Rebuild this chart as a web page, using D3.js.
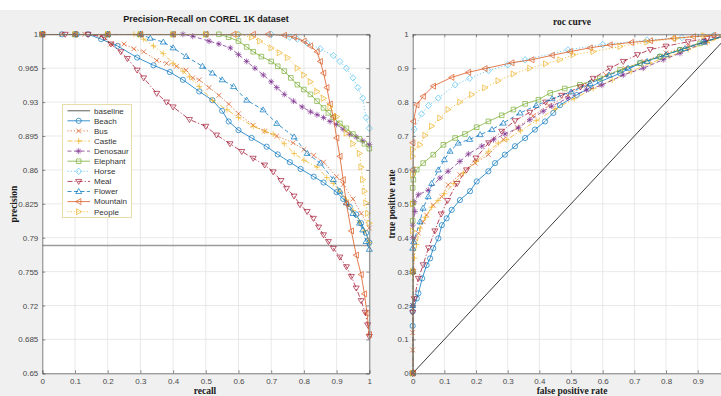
<!DOCTYPE html>
<html><head><meta charset="utf-8">
<script src="https://cdn.jsdelivr.net/npm/d3@7"></script>
<style>body{margin:0;background:#fff}svg{display:block}</style>
</head><body><svg id="c" width="721" height="396"></svg>
<script>
// ---------- data ----------
const categories = ["Beach","Bus","Castle","Denosaur","Elephant","Horse","Meal","Flower","Mountain","People"];
const seriesColors = ["#0072BD","#D95319","#EDB120","#7E2F8E","#77AC30","#4DBEEE","#A2142F","#0072BD","#D95319","#EDB120"];
const seriesDash = ["none","1.2,2","5,2,1.2,2","4,2.5","none","1.2,2","5,2,1.2,2","4,2.5","none","1.2,2"];
const seriesMarker = ["circle","x","plus","star","square","diamond","tridown","triup","trileft","triright"];

const prXTicks = [0,0.1,0.2,0.3,0.4,0.5,0.6,0.7,0.8,0.9,1];
const prYTicks = [0.65,0.685,0.72,0.755,0.79,0.825,0.86,0.895,0.93,0.965,1];
const prYTickLabels = ["0.65","0.685","0.72","0.755","0.79","0.825","0.86","0.895","0.93","0.965","1"];
const rocTicks = [0,0.1,0.2,0.3,0.4,0.5,0.6,0.7,0.8,0.9,1];
const baselinePrecision = 0.782;

// precision-recall: [recall, precision]
const prBeach = [[0,1],[0.06,1],[0.105,1],[0.14,1],[0.18,0.995],[0.23,0.988],[0.29,0.976],[0.34,0.968],[0.39,0.961],[0.43,0.953],[0.48,0.941],[0.52,0.932],[0.55,0.921],[0.57,0.91],[0.6,0.901],[0.64,0.893],[0.686,0.884],[0.72,0.876],[0.757,0.868],[0.79,0.861],[0.83,0.853],[0.86,0.847],[0.9,0.837],[0.92,0.83],[0.94,0.822],[0.96,0.814],[0.975,0.805],[0.99,0.795],[1,0.785]];
const prBus = [[0,1],[0.06,1],[0.13,1],[0.18,0.998],[0.21,0.99],[0.25,0.99],[0.28,0.985],[0.31,0.982],[0.35,0.973],[0.38,0.97],[0.41,0.967],[0.44,0.963],[0.46,0.955],[0.48,0.953],[0.51,0.945],[0.54,0.937],[0.57,0.928],[0.6,0.918],[0.645,0.906],[0.68,0.9],[0.717,0.895],[0.767,0.888],[0.8,0.881],[0.83,0.875],[0.86,0.868],[0.9,0.853],[0.92,0.845],[0.95,0.83],[0.975,0.815],[1,0.8]];
const prCastle = [[0,1],[0.1,1],[0.2,1],[0.28,1],[0.31,0.995],[0.34,0.988],[0.37,0.98],[0.4,0.97],[0.43,0.962],[0.45,0.956],[0.48,0.946],[0.52,0.932],[0.565,0.922],[0.6,0.914],[0.645,0.905],[0.68,0.9],[0.706,0.897],[0.74,0.887],[0.77,0.877],[0.8,0.87],[0.84,0.863],[0.87,0.852],[0.89,0.846],[0.91,0.838],[0.93,0.829],[0.95,0.818],[0.97,0.806],[0.985,0.797],[1,0.785]];
const prDenosaur = [[0,1],[0.1,1],[0.2,1],[0.3,1],[0.4,1],[0.43,1],[0.46,0.998],[0.51,0.993],[0.54,0.99],[0.575,0.986],[0.6,0.979],[0.625,0.972],[0.65,0.965],[0.676,0.958],[0.7,0.951],[0.717,0.945],[0.74,0.938],[0.768,0.931],[0.795,0.925],[0.82,0.92],[0.84,0.917],[0.86,0.914],[0.88,0.91],[0.9,0.907],[0.92,0.902],[0.94,0.897],[0.96,0.894],[0.98,0.89],[1,0.886]];
const prElephant = [[0,1],[0.1,1],[0.2,1],[0.3,1],[0.4,1],[0.5,1],[0.54,1],[0.57,0.997],[0.6,0.993],[0.625,0.987],[0.645,0.982],[0.67,0.977],[0.7,0.972],[0.72,0.967],[0.74,0.962],[0.76,0.955],[0.78,0.948],[0.8,0.943],[0.82,0.938],[0.84,0.931],[0.86,0.924],[0.875,0.919],[0.89,0.914],[0.91,0.908],[0.93,0.903],[0.95,0.897],[0.97,0.892],[0.985,0.887],[1,0.882]];
const prHorse = [[0,1],[0.1,1],[0.2,1],[0.3,1],[0.4,1],[0.5,1],[0.6,1],[0.7,1],[0.757,0.997],[0.78,0.995],[0.81,0.991],[0.85,0.985],[0.89,0.978],[0.91,0.972],[0.93,0.965],[0.95,0.955],[0.965,0.945],[0.98,0.934],[0.99,0.914],[1,0.903]];
const prMeal = [[0,1],[0.07,1],[0.14,1],[0.19,0.997],[0.21,0.99],[0.24,0.982],[0.26,0.975],[0.29,0.963],[0.31,0.955],[0.35,0.939],[0.38,0.93],[0.4,0.925],[0.45,0.912],[0.5,0.905],[0.533,0.896],[0.574,0.887],[0.61,0.879],[0.645,0.872],[0.68,0.865],[0.706,0.858],[0.73,0.849],[0.747,0.841],[0.77,0.833],[0.788,0.824],[0.81,0.817],[0.829,0.81],[0.845,0.801],[0.86,0.793],[0.875,0.786],[0.89,0.779],[0.91,0.77],[0.93,0.76],[0.945,0.75],[0.96,0.738],[0.975,0.725],[0.987,0.713],[0.995,0.7],[1,0.688]];
const prFlower = [[0,1],[0.1,1],[0.2,1],[0.3,1],[0.33,0.996],[0.37,0.992],[0.4,0.986],[0.44,0.977],[0.49,0.967],[0.52,0.96],[0.55,0.953],[0.585,0.946],[0.625,0.932],[0.675,0.922],[0.717,0.908],[0.77,0.894],[0.81,0.877],[0.85,0.867],[0.89,0.85],[0.91,0.838],[0.93,0.826],[0.95,0.815],[0.97,0.805],[0.98,0.798],[0.99,0.786],[1,0.778]];
const prMountain = [[0,1],[0.1,1],[0.2,1],[0.3,1],[0.4,1],[0.5,1],[0.585,1],[0.645,1],[0.69,1],[0.74,0.999],[0.77,0.997],[0.8,0.993],[0.82,0.988],[0.84,0.982],[0.85,0.972],[0.86,0.96],[0.87,0.945],[0.88,0.928],[0.89,0.915],[0.9,0.893],[0.91,0.874],[0.92,0.85],[0.93,0.825],[0.945,0.797],[0.96,0.772],[0.975,0.752],[0.985,0.732],[0.993,0.712],[1,0.69]];
const prPeople = [[0,1],[0.1,1],[0.2,1],[0.3,1],[0.4,1],[0.5,1],[0.6,1],[0.64,0.997],[0.665,0.993],[0.7,0.986],[0.725,0.981],[0.75,0.976],[0.78,0.965],[0.8,0.958],[0.82,0.951],[0.84,0.941],[0.86,0.934],[0.88,0.925],[0.9,0.915],[0.93,0.898],[0.95,0.887],[0.97,0.877],[0.975,0.863],[0.98,0.85],[0.985,0.838],[0.99,0.826],[0.995,0.815],[1,0.805]];

// roc: [false positive rate, true positive rate]
const rocBeach = [[0,0],[0,0.14],[0,0.182],[0.013,0.221],[0.018,0.236],[0.03,0.28],[0.044,0.319],[0.055,0.339],[0.065,0.369],[0.081,0.398],[0.092,0.437],[0.107,0.457],[0.123,0.482],[0.149,0.511],[0.181,0.537],[0.202,0.566],[0.239,0.596],[0.26,0.62],[0.291,0.645],[0.323,0.67],[0.355,0.694],[0.386,0.719],[0.418,0.743],[0.444,0.768],[0.465,0.791],[0.518,0.821],[0.555,0.84],[0.591,0.86],[0.655,0.885],[0.718,0.915],[0.78,0.934],[0.844,0.954],[0.918,0.978],[1,1]];
const rocBus = [[0,0],[0,0.069],[0,0.12],[0,0.2],[0.003,0.3],[0.007,0.398],[0.018,0.413],[0.033,0.447],[0.044,0.467],[0.065,0.496],[0.092,0.521],[0.112,0.556],[0.149,0.586],[0.197,0.62],[0.239,0.645],[0.286,0.69],[0.33,0.725],[0.38,0.76],[0.43,0.79],[0.49,0.82],[0.55,0.85],[0.61,0.88],[0.67,0.9],[0.73,0.92],[0.8,0.945],[0.87,0.965],[0.93,0.98],[1,1]];
const rocCastle = [[0,0],[0,0.2],[0,0.295],[0.005,0.34],[0.012,0.38],[0.023,0.428],[0.04,0.46],[0.06,0.49],[0.08,0.51],[0.1,0.53],[0.13,0.56],[0.16,0.59],[0.2,0.625],[0.24,0.655],[0.27,0.679],[0.297,0.689],[0.34,0.715],[0.39,0.745],[0.45,0.78],[0.51,0.81],[0.57,0.84],[0.63,0.865],[0.69,0.89],[0.75,0.915],[0.81,0.935],[0.87,0.955],[0.93,0.975],[1,1]];
const rocDenosaur = [[0,0],[0,0.2],[0,0.4],[0,0.437],[0.007,0.477],[0.005,0.506],[0.018,0.527],[0.049,0.54],[0.086,0.576],[0.112,0.596],[0.149,0.625],[0.176,0.647],[0.218,0.67],[0.255,0.689],[0.291,0.706],[0.334,0.724],[0.37,0.748],[0.412,0.773],[0.439,0.788],[0.49,0.812],[0.549,0.836],[0.597,0.85],[0.665,0.88],[0.728,0.9],[0.791,0.925],[0.844,0.944],[0.923,0.978],[1,1]];
const rocElephant = [[0,0],[0,0.3],[0,0.45],[0,0.5],[0,0.547],[0.002,0.571],[0.013,0.601],[0.033,0.62],[0.065,0.645],[0.097,0.674],[0.134,0.694],[0.165,0.706],[0.202,0.726],[0.239,0.743],[0.281,0.761],[0.318,0.778],[0.355,0.795],[0.397,0.807],[0.434,0.827],[0.48,0.84],[0.528,0.851],[0.591,0.87],[0.655,0.895],[0.718,0.915],[0.781,0.934],[0.844,0.954],[0.907,0.973],[1,1]];
const rocHorse = [[0,0],[0,0.3],[0,0.6],[0.005,0.72],[0.028,0.765],[0.05,0.79],[0.081,0.812],[0.134,0.851],[0.18,0.87],[0.239,0.893],[0.3,0.91],[0.355,0.925],[0.49,0.954],[0.6,0.97],[0.74,0.983],[0.85,0.99],[0.95,0.997],[1,1]];
const rocMeal = [[0,0],[0,0.18],[0.005,0.22],[0.018,0.28],[0.033,0.32],[0.05,0.37],[0.07,0.42],[0.09,0.47],[0.11,0.51],[0.14,0.56],[0.17,0.6],[0.2,0.635],[0.24,0.68],[0.281,0.714],[0.323,0.745],[0.37,0.77],[0.42,0.8],[0.47,0.82],[0.53,0.845],[0.57,0.87],[0.623,0.9],[0.665,0.92],[0.71,0.94],[0.75,0.955],[0.8,0.965],[0.87,0.978],[0.93,0.988],[1,1]];
const rocFlower = [[0,0],[0,0.2],[0,0.3],[0,0.369],[0.003,0.388],[0.023,0.447],[0.033,0.487],[0.049,0.521],[0.06,0.56],[0.081,0.6],[0.1,0.63],[0.118,0.655],[0.144,0.679],[0.18,0.69],[0.213,0.704],[0.25,0.719],[0.286,0.738],[0.339,0.768],[0.39,0.79],[0.44,0.81],[0.5,0.83],[0.56,0.855],[0.62,0.88],[0.68,0.9],[0.74,0.92],[0.8,0.94],[0.86,0.958],[0.92,0.977],[1,1]];
const rocMountain = [[0,0],[0,0.3],[0,0.6],[0,0.68],[0.002,0.743],[0.013,0.792],[0.033,0.817],[0.065,0.847],[0.123,0.873],[0.176,0.888],[0.228,0.899],[0.313,0.916],[0.376,0.925],[0.44,0.938],[0.497,0.949],[0.56,0.96],[0.623,0.969],[0.69,0.976],[0.75,0.981],[0.823,0.988],[0.886,0.993],[0.95,0.997],[1,1]];
const rocPeople = [[0,0],[0,0.3],[0,0.42],[0,0.5],[0,0.586],[0,0.64],[0,0.66],[0.023,0.674],[0.039,0.702],[0.06,0.729],[0.086,0.753],[0.112,0.778],[0.149,0.8],[0.186,0.822],[0.228,0.842],[0.27,0.863],[0.318,0.883],[0.37,0.9],[0.42,0.913],[0.465,0.925],[0.507,0.94],[0.57,0.949],[0.655,0.964],[0.74,0.977],[0.83,0.988],[0.92,0.996],[1,1]];

const prSeries = [prBeach,prBus,prCastle,prDenosaur,prElephant,prHorse,prMeal,prFlower,prMountain,prPeople];
const rocSeries = [rocBeach,rocBus,rocCastle,rocDenosaur,rocElephant,rocHorse,rocMeal,rocFlower,rocMountain,rocPeople];

// ---------- drawing ----------
const svg = d3.select("#c");
svg.append("rect").attr("x",0).attr("y",10).attr("width",721).attr("height",386).attr("fill","#f0f0f0");

const FONT = "Arial, 'Liberation Sans', sans-serif";
const SERIF = "'Liberation Serif','DejaVu Serif',serif";

function markerPath(type){
  switch(type){
    case "x": return "M-2.4,-2.4L2.4,2.4M-2.4,2.4L2.4,-2.4";
    case "plus": return "M-3,0L3,0M0,-3L0,3";
    case "star": return "M-3,0L3,0M0,-3L0,3M-2.1,-2.1L2.1,2.1M-2.1,2.1L2.1,-2.1";
    case "square": return "M-2.3,-2.3L2.3,-2.3L2.3,2.3L-2.3,2.3Z";
    case "diamond": return "M0,-3.2L3,0L0,3.2L-3,0Z";
    case "tridown": return "M-3,-2L3,-2L0,3Z";
    case "triup": return "M-3,2L3,2L0,-3Z";
    case "trileft": return "M2.2,-3L2.2,3L-3,0Z";
    case "triright": return "M-2.2,-3L-2.2,3L3,0Z";
    default: return "M2.6,0A2.6,2.6 0 1 1 -2.6,0A2.6,2.6 0 1 1 2.6,0Z";
  }
}

function drawAxes(cfg){
  const {x,y,xTicks,yTicks,id} = cfg;
  const [x0,x1] = x.range(), [y1,y0] = y.range();
  const g = svg.append("g");
  g.append("rect").attr("x",x0).attr("y",y0).attr("width",x1-x0).attr("height",y1-y0).attr("fill","#fff");
  g.append("g").selectAll("line").data(xTicks.slice(1)).join("line")
    .attr("x1",d=>x(d)).attr("x2",d=>x(d)).attr("y1",y0).attr("y2",y1)
    .attr("stroke","#e3e3e3").attr("stroke-width",0.8);
  g.append("g").selectAll("line").data(yTicks.slice(1)).join("line")
    .attr("x1",x0).attr("x2",x1).attr("y1",d=>y(d)).attr("y2",d=>y(d))
    .attr("stroke","#e3e3e3").attr("stroke-width",0.8);
  svg.append("defs").append("clipPath").attr("id",id).append("rect")
    .attr("x",x0).attr("y",y0).attr("width",x1-x0).attr("height",y1-y0);
}

function finishAxes(cfg){
  const {x,y,xTicks,yTicks,yLabels,xShown} = cfg;
  const [x0,x1] = x.range(), [y1,y0] = y.range();
  const ax = d3.axisBottom(x).tickValues(xTicks).tickSize(-3).tickPadding(5)
    .tickFormat(d=> (xShown && d>xShown) ? "" : d===0 ? "0" : d===1 ? "1" : d3.format(".1f")(d));
  const gx = svg.append("g").attr("transform",`translate(0,${y1})`).call(ax);
  const ay = d3.axisLeft(y).tickValues(yTicks).tickSize(-3).tickPadding(4)
    .tickFormat((d,i)=> yLabels ? yLabels[i] : (d===0?"0":d===1?"1":d3.format(".1f")(d)));
  const gy = svg.append("g").attr("transform",`translate(${x0},0)`).call(ay);
  const axt = d3.axisTop(x).tickValues(xTicks).tickSize(-3).tickFormat("");
  const gt = svg.append("g").attr("transform",`translate(0,${y0})`).call(axt);
  const ayr = d3.axisRight(y).tickValues(yTicks).tickSize(-3).tickFormat("");
  const gr = svg.append("g").attr("transform",`translate(${x1},0)`).call(ayr);
  [gx,gy,gt,gr].forEach(g=>{
    g.select(".domain").attr("stroke","#6e6e6e").attr("stroke-width",0.9);
    g.selectAll(".tick line").attr("stroke","#6e6e6e").attr("stroke-width",0.8);
    g.selectAll("text").attr("fill","#4a4a4a").attr("font-family",FONT).attr("font-size",8);
  });
  gx.selectAll(".tick text").filter(function(){return this.textContent==="";}).remove();
}

function drawSeries(data, x, y, clipId){
  const line = d3.line().x(d=>x(d[0])).y(d=>y(d[1]));
  data.forEach((s,i)=>{
    const g = svg.append("g");
    g.append("path").attr("d",line(s)).attr("fill","none")
      .attr("stroke",seriesColors[i]).attr("stroke-width",0.9)
      .attr("stroke-dasharray",seriesDash[i]).attr("stroke-opacity",0.85)
      .attr("clip-path",`url(#${clipId})`);
    g.selectAll("path.m").data(s).join("path").attr("class","m")
      .attr("transform",d=>`translate(${x(d[0])},${y(d[1])})`)
      .attr("d",markerPath(seriesMarker[i]))
      .attr("fill","none").attr("stroke",seriesColors[i]).attr("stroke-width",0.8).attr("stroke-opacity",0.85);
  });
}

// ---------- left: precision-recall ----------
const px = d3.scaleLinear().domain([0,1]).range([42.3,369.3]);
const py = d3.scaleLinear().domain([0.65,1]).range([373.3,34.3]);
const cfgL = {x:px,y:py,xTicks:prXTicks,yTicks:prYTicks,yLabels:prYTickLabels,id:"clipL",xShown:null};
drawAxes(cfgL);
svg.append("line").attr("x1",px(0)).attr("x2",px(1)).attr("y1",py(baselinePrecision)).attr("y2",py(baselinePrecision))
  .attr("stroke","#9a9a9a").attr("stroke-width",1.6);
drawSeries(prSeries, px, py, "clipL");
finishAxes(cfgL);

// ---------- right: roc ----------
const rx = d3.scaleLinear().domain([0,1]).range([412.7,729.4]);
const ry = d3.scaleLinear().domain([0,1]).range([373.3,34.3]);
const cfgR = {x:rx,y:ry,xTicks:rocTicks,yTicks:rocTicks,yLabels:null,id:"clipR",xShown:0.95};
drawAxes(cfgR);
svg.append("line").attr("x1",rx(0)).attr("x2",rx(1)).attr("y1",ry(0)).attr("y2",ry(1))
  .attr("stroke","#3c3c3c").attr("stroke-width",1);
drawSeries(rocSeries, rx, ry, "clipR");
finishAxes(cfgR);

// ---------- titles & labels ----------
svg.append("text").attr("x",206).attr("y",22).attr("text-anchor","middle")
  .attr("font-family",FONT).attr("font-weight","bold").attr("font-size",9).attr("fill","#1a1a1a")
  .text("Precision-Recall on COREL 1K dataset");
svg.append("text").attr("x",572).attr("y",25).attr("text-anchor","middle")
  .attr("font-family",SERIF).attr("font-weight","bold").attr("font-size",9.5).attr("fill","#1a1a1a")
  .text("roc curve");
svg.append("text").attr("x",205).attr("y",394).attr("text-anchor","middle")
  .attr("font-family",SERIF).attr("font-weight","bold").attr("font-size",9.5).attr("fill","#1a1a1a").text("recall");
svg.append("text").attr("x",572).attr("y",394).attr("text-anchor","middle")
  .attr("font-family",SERIF).attr("font-weight","bold").attr("font-size",9.5).attr("fill","#1a1a1a").text("false positive rate");
svg.append("text").attr("transform","translate(17,204) rotate(-90)").attr("text-anchor","middle")
  .attr("font-family",SERIF).attr("font-weight","bold").attr("font-size",9.5).attr("fill","#1a1a1a").text("precision");
svg.append("text").attr("transform","translate(395,204) rotate(-90)").attr("text-anchor","middle")
  .attr("font-family",SERIF).attr("font-weight","bold").attr("font-size",9.5).attr("fill","#1a1a1a").text("true positive rate");

// ---------- legend ----------
const legendNames = ["baseline"].concat(categories);
const lg = svg.append("g");
lg.append("rect").attr("x",62.5).attr("y",104.5).attr("width",69).attr("height",113)
  .attr("fill","#fff").attr("stroke","#e6d9a2").attr("stroke-width",0.9);
legendNames.forEach((name,k)=>{
  const yy = 110.7 + k*10.1;
  if(k===0){
    lg.append("line").attr("x1",67.5).attr("x2",90).attr("y1",yy).attr("y2",yy).attr("stroke","#8a8a8a").attr("stroke-width",1.4);
  } else {
    const i = k-1;
    lg.append("line").attr("x1",67.5).attr("x2",90).attr("y1",yy).attr("y2",yy)
      .attr("stroke",seriesColors[i]).attr("stroke-width",0.9).attr("stroke-dasharray",seriesDash[i]).attr("stroke-opacity",0.85);
    lg.append("path").attr("transform",`translate(78.7,${yy})`).attr("d",markerPath(seriesMarker[i]))
      .attr("fill","none").attr("stroke",seriesColors[i]).attr("stroke-width",0.8).attr("stroke-opacity",0.85);
  }
  lg.append("text").attr("x",94).attr("y",yy).attr("dy","0.35em")
    .attr("font-family",FONT).attr("font-size",8).attr("fill","#333").text(name);
});
</script></body></html>
